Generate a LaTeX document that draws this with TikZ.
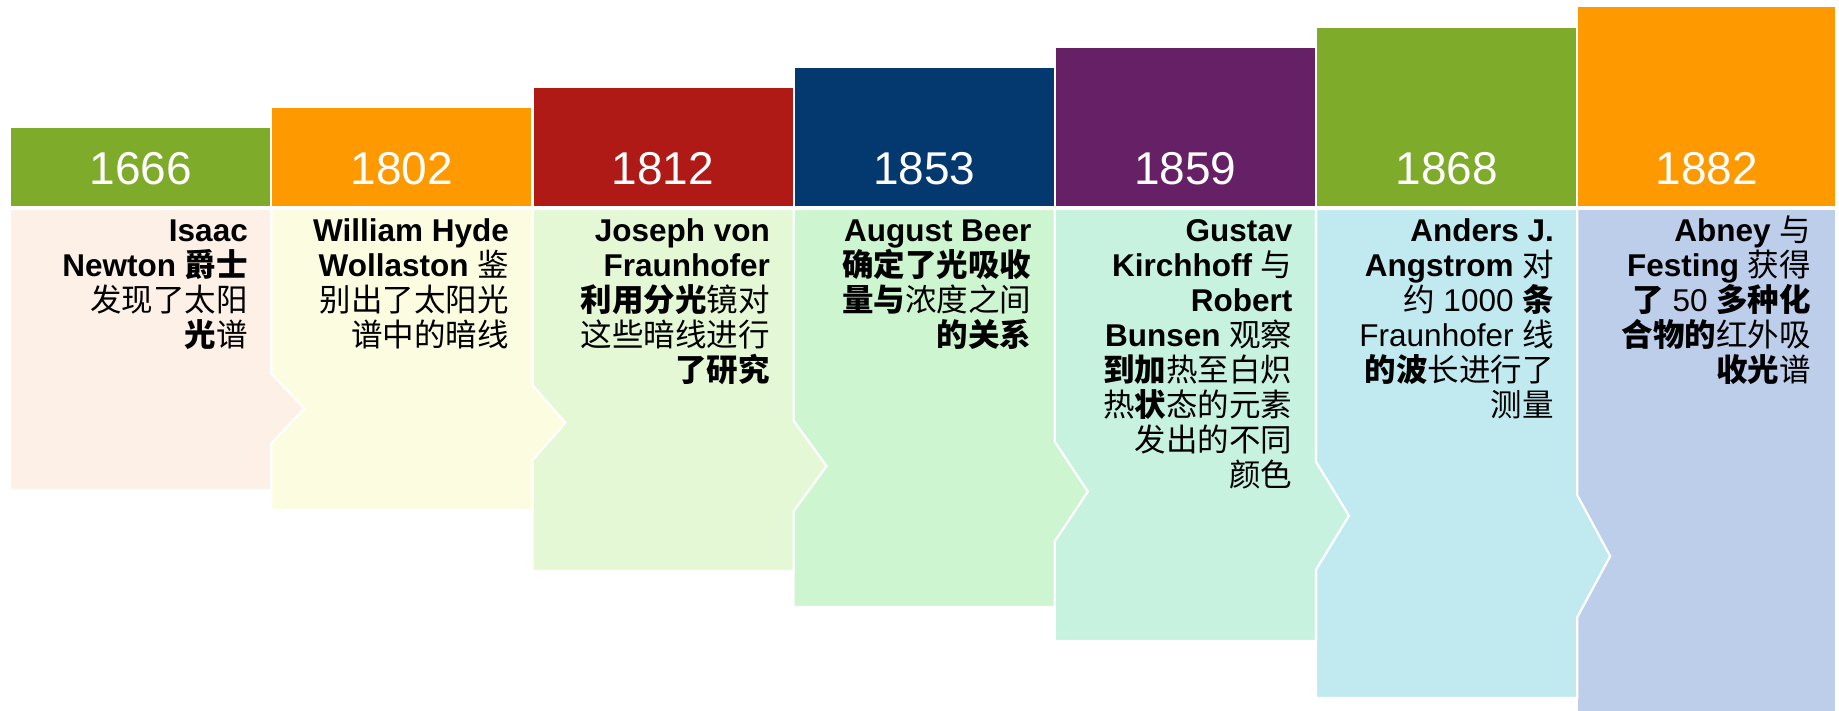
\documentclass[tikz,border=0pt]{standalone}
\usepackage{fontspec}
\setmainfont{Liberation Sans}
\newfontfamily\cjk{Noto Sans CJK SC}
\newcommand\bc[1]{{\cjk\bfseries #1}}
\newcommand\rc[1]{{\cjk #1}}
\newcommand\firstline{\rule{0pt}{30pt}}
\definecolor{hgreen}{HTML}{7FAB2B}
\definecolor{horange}{HTML}{FE9900}
\definecolor{hred}{HTML}{AF1916}
\definecolor{hnavy}{HTML}{03396F}
\definecolor{hpurple}{HTML}{662066}
\definecolor{bodyA}{HTML}{FDF0E7}
\definecolor{bodyB}{HTML}{FCFDE0}
\definecolor{bodyC}{HTML}{E5F8D6}
\definecolor{bodyD}{HTML}{CDF5D0}
\definecolor{bodyE}{HTML}{C8F2E0}
\definecolor{bodyF}{HTML}{C1EAF0}
\definecolor{bodyG}{HTML}{BDCEEB}
\begin{document}
\begin{tikzpicture}[x=1pt,y=-1pt,
  bodyshape/.style={draw=white, line width=2.2pt, line join=miter},
  headbox/.style={draw=white, line width=2.2pt},
  year/.style={text=white, font=\fontsize{46}{50}\selectfont, anchor=base, inner sep=0pt},
  desc/.style={font=\fontsize{31.5}{35}\selectfont, align=right, anchor=north east, inner sep=0pt}]
\useasboundingbox (0,0) rectangle (1839,711);
\fill[white] (0,0) rectangle (1839,711);
% bodies, right to left so each arrow lies over the next column
\filldraw[bodyshape, fill=bodyG] (1577.2,209) rectangle (1836,714);
\foreach \k/\bb/\col in {6/698/bodyF,5/641/bodyE,4/607/bodyD,3/571/bodyC,2/510/bodyB,1/490/bodyA}{
  \pgfmathsetmacro\xl{10+261.2*(\k-1)}
  \pgfmathsetmacro\xr{\xl+261.2}
  \pgfmathsetmacro\ymid{209+0.71*(\bb-209)}
  \pgfmathsetmacro\yhalf{0.125*(\bb-209)}
  \filldraw[bodyshape, fill=\col] (\xl,209) -- (\xr,209) -- (\xr,\ymid-\yhalf) -- (\xr+33,\ymid) -- (\xr,\ymid+\yhalf) -- (\xr,\bb) -- (\xl,\bb) -- cycle;
}
% headers
\foreach \k/\tp/\col in {1/127/hgreen,2/107/horange,3/87/hred,4/67/hnavy,5/47/hpurple,6/26.5/hgreen,7/6/horange}{
  \pgfmathsetmacro\xl{10+261.2*(\k-1)}
  \pgfmathsetmacro\xr{min(\xl+261.2,1836)}
  \filldraw[headbox, fill=\col] (\xl,\tp) rectangle (\xr,207);
}
% years
\node[year] (y1) at (140.6,185) {1666};
\node[year] (y2) at (401.8,185) {1802};
\node[year] (y3) at (663.0,185) {1812};
\node[year] (y4) at (924.2,185) {1853};
\node[year] (y5) at (1185.4,185) {1859};
\node[year] (y6) at (1446.6,185) {1868};
\node[year] (y7) at (1706.6,185) {1882};
% descriptions (first baseline at y = 241)
\node[desc] (t1) at (248,211) {\firstline\textbf{Isaac}\\ \textbf{Newton \cjk 爵士}\\ \rc{发现了太阳}\\ \bc{光}\rc{谱}};
\node[desc] (t2) at (509,211) {\firstline\textbf{William Hyde}\\ \textbf{Wollaston} \rc{鉴}\\ \rc{别出了太阳光}\\ \rc{谱中的暗线}};
\node[desc] (t3) at (770,211) {\firstline\textbf{Joseph von}\\ \textbf{Fraunhofer}\\ \bc{利用分光}\rc{镜对}\\ \rc{这些暗线进行}\\ \bc{了研究}};
\node[desc] (t4) at (1031.5,211) {\firstline\textbf{August Beer}\\ \bc{确定了光吸收}\\ \bc{量与}\rc{浓度之间}\\ \bc{的关系}};
\node[desc] (t5) at (1292.5,211) {\firstline\textbf{Gustav}\\ \textbf{Kirchhoff} \rc{与}\\ \textbf{Robert}\\ \textbf{Bunsen} \rc{观察}\\ \bc{到加}\rc{热至白炽}\\ \rc{热}\bc{状}\rc{态的元素}\\ \rc{发出的不同}\\ \rc{颜色}};
\node[desc] (t6) at (1554,211) {\firstline\textbf{Anders J.}\\ \textbf{Angstrom} \rc{对}\\ \rc{约} 1000 \bc{条}\\ Fraunhofer \rc{线}\\ \bc{的波}\rc{长进行了}\\ \rc{测量}};
\node[desc] (t7) at (1811,211) {\firstline\textbf{Abney} \rc{与}\\ \textbf{Festing} \rc{获得}\\ \bc{了} 50 \bc{多种化}\\ \bc{合物的}\rc{红外吸}\\ \bc{收光}\rc{谱}};
\end{tikzpicture}
\end{document}
